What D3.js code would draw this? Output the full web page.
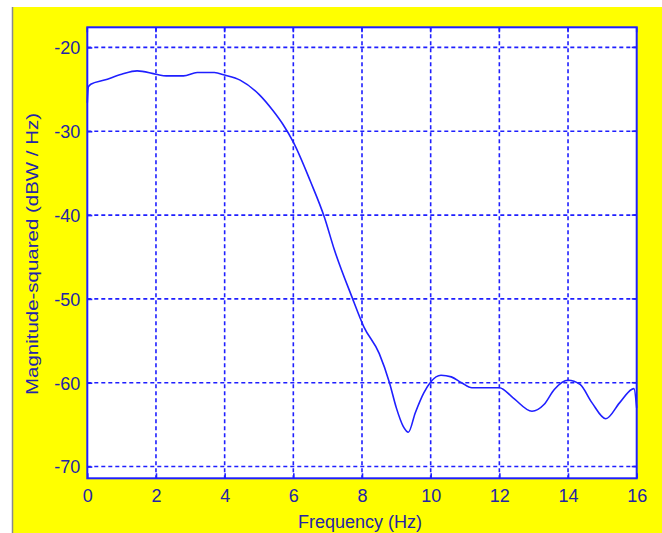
<!DOCTYPE html>
<html>
<head>
<meta charset="utf-8">
<script src="https://cdn.jsdelivr.net/npm/d3@7"></script>
<style>
  html, body { margin: 0; padding: 0; background: #ffffff; }
  svg { display: block; }
</style>
</head>
<body>
<svg id="chart" width="662" height="533"></svg>
<script>
// ---- data ----
const frequencyHz = [0, 0.03, 0.1, 0.5, 1.0, 1.45, 2.0, 2.3, 2.8, 3.2, 3.7, 4.0, 4.45, 5.0, 5.4, 5.7, 6.0,
  6.5, 6.9, 7.2, 7.7, 8.05, 8.5, 8.8, 9.0, 9.2, 9.35, 9.55, 9.8, 10.0, 10.3, 10.6, 10.9, 11.2,
  12.0, 12.4, 12.95, 13.3, 13.6, 14.0, 14.35, 14.7, 15.1, 15.5, 15.85, 15.92, 16.0];
const magnitudeDb = [-26.6, -24.7, -24.4, -23.9, -23.2, -22.8, -23.2, -23.4, -23.4, -23.0, -23.0, -23.3,
  -23.9, -25.6, -27.5, -29.2, -31.3, -36.0, -40.2, -44.2, -49.7, -53.3, -56.5, -60.0, -63.0, -65.2, -65.9,
  -63.6, -61.2, -59.9, -59.1, -59.3, -60.0, -60.6, -60.6, -61.8, -63.4, -62.6, -60.8, -59.7, -60.2,
  -62.4, -64.3, -62.4, -60.8, -60.7, -63.0];
const xTicks = [0, 2, 4, 6, 8, 10, 12, 14, 16];
const yTicks = [-20, -30, -40, -50, -60, -70];
const xLabel = "Frequency (Hz)";
const yLabel = "Magnitude-squared (dBW / Hz)";

// ---- layout ----
const svg = d3.select("#chart");
const W = 662, H = 533;
const plot = { left: 87.3, top: 27.3, right: 636.7, bottom: 478.3 };
const blue = "#1f1fff";
const textBlue = "#2424a8";
const font = "'Liberation Sans', Arial, sans-serif";

// background: white band on top and left, gray rule, yellow figure
svg.append("rect").attr("x", 0).attr("y", 0).attr("width", W).attr("height", H).attr("fill", "#ffffff");
svg.append("rect").attr("x", 13).attr("y", 7).attr("width", W - 13).attr("height", H - 7).attr("fill", "#ffff00");
svg.append("line").attr("x1", 12.5).attr("x2", 12.5).attr("y1", 7).attr("y2", H)
  .attr("stroke", "#8a8a8a").attr("stroke-width", 1.5);

const x = d3.scaleLinear().domain([0, 16]).range([plot.left, plot.right]);
const y = d3.scaleLinear().domain([-71.4, -17.6]).range([plot.bottom, plot.top]);

// plot area
svg.append("rect").attr("x", plot.left).attr("y", plot.top)
  .attr("width", plot.right - plot.left).attr("height", plot.bottom - plot.top)
  .attr("fill", "#ffffff");

// grid
const grid = svg.append("g").attr("stroke", blue).attr("stroke-width", 1.6)
  .attr("stroke-dasharray", "4,3").attr("fill", "none");
xTicks.filter(t => t > 0 && t < 16).forEach(t => {
  grid.append("line").attr("x1", x(t)).attr("x2", x(t)).attr("y1", plot.top).attr("y2", plot.bottom);
});
yTicks.forEach(t => {
  grid.append("line").attr("x1", plot.left).attr("x2", plot.right).attr("y1", y(t)).attr("y2", y(t));
});

// curve
const line = d3.line()
  .x((d, i) => x(frequencyHz[i]))
  .y(d => y(d))
  .curve(d3.curveMonotoneX);
svg.append("path").datum(magnitudeDb)
  .attr("d", line)
  .attr("fill", "none").attr("stroke", blue).attr("stroke-width", 1.6);

// axes using d3 axis generators (ticks inward)
const fmt = d => String(d);
const xAxis = d3.axisBottom(x).tickValues(xTicks).tickSizeInner(-5).tickSizeOuter(0).tickFormat(fmt);
const yAxis = d3.axisLeft(y).tickValues(yTicks).tickSizeInner(-5).tickSizeOuter(0).tickFormat(fmt);

const gx = svg.append("g").attr("transform", `translate(0,${plot.bottom})`).call(xAxis);
const gy = svg.append("g").attr("transform", `translate(${plot.left},0)`).call(yAxis);
[gx, gy].forEach(g => {
  g.select(".domain").remove();
  g.selectAll(".tick line").attr("stroke", blue).attr("stroke-width", 1.6);
  g.selectAll(".tick text").attr("fill", textBlue).attr("font-family", font).attr("font-size", 18);
});
gx.selectAll(".tick text").attr("dy", "0.71em").attr("y", 11);
gy.selectAll(".tick text").attr("x", -7).attr("dy", "0.35em");

// top ticks & right ticks (inward)
xTicks.forEach(t => {
  svg.append("line").attr("x1", x(t)).attr("x2", x(t)).attr("y1", plot.top).attr("y2", plot.top + 5)
    .attr("stroke", blue).attr("stroke-width", 1.6);
});
yTicks.forEach(t => {
  svg.append("line").attr("x1", plot.right).attr("x2", plot.right - 5).attr("y1", y(t)).attr("y2", y(t))
    .attr("stroke", blue).attr("stroke-width", 1.6);
});

// box
svg.append("rect").attr("x", plot.left).attr("y", plot.top)
  .attr("width", plot.right - plot.left).attr("height", plot.bottom - plot.top)
  .attr("fill", "none").attr("stroke", blue).attr("stroke-width", 2);

// axis labels
svg.append("text").attr("x", 360).attr("y", 528)
  .attr("text-anchor", "middle").attr("fill", textBlue)
  .attr("font-family", font).attr("font-size", 18).text(xLabel);

svg.append("text")
  .attr("transform", `translate(38,254) rotate(-90)`)
  .attr("text-anchor", "middle").attr("fill", textBlue)
  .attr("font-family", font).attr("font-size", 17)
  .attr("textLength", 282).attr("lengthAdjust", "spacingAndGlyphs")
  .text(yLabel);
</script>
</body>
</html>
